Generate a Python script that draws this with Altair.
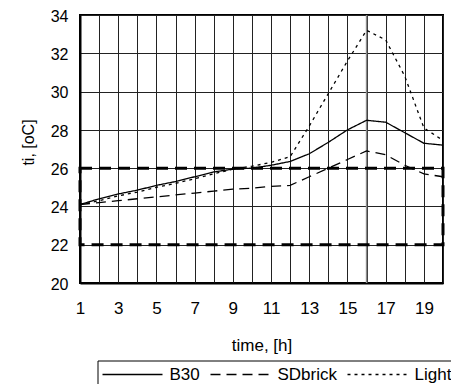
import altair as alt
import pandas as pd

hours = list(range(1, 21))
b30 = [24.1, 24.4, 24.65, 24.85, 25.1, 25.3, 25.55, 25.8, 25.95, 26.0,
       26.15, 26.35, 26.75, 27.35, 28.0, 28.5, 28.4, 27.85, 27.3, 27.2]
sdbrick = [24.1, 24.2, 24.3, 24.4, 24.5, 24.6, 24.7, 24.8, 24.9, 24.95,
           25.05, 25.1, 25.55, 26.0, 26.45, 26.9, 26.7, 26.15, 25.7, 25.55]
light = [24.1, 24.3, 24.55, 24.75, 25.0, 25.2, 25.45, 25.7, 25.95, 26.1,
         26.3, 26.6, 28.2, 29.9, 31.6, 33.2, 32.7, 30.8, 28.1, 27.45]
series_names = ["B30", "SDbrick", "Light"]
zone_low, zone_high = 22, 26
peak_hour = [16]
x_ticks = list(range(1, 21))
y_ticks = list(range(20, 35, 2))

rows = []
for name, vals in zip(series_names, [b30, sdbrick, light]):
    for h, v in zip(hours, vals):
        rows.append({"time": h, "ti": v, "series": name})
df = pd.DataFrame(rows)
zone = pd.DataFrame({"x": [hours[0]], "x2": [hours[-1]], "y": [zone_low], "y2": [zone_high]})
peak = pd.DataFrame({"time": peak_hour})

font = "Liberation Sans"
x_scale = alt.Scale(domain=[hours[0], hours[-1]], nice=False, zero=False)
y_scale = alt.Scale(domain=[y_ticks[0], y_ticks[-1]], nice=False, zero=False)

x_axis = alt.Axis(values=x_ticks, labelExpr="datum.value % 2 == 1 ? datum.label : ''",
                  title="time, [h]", grid=True, ticks=False, labelPadding=17,
                  titlePadding=21, labelFontSize=17, titleFontSize=17,
                  titleFontWeight="normal", labelFlush=False)
y_axis = alt.Axis(values=y_ticks, title="ti, [oC]", grid=True, ticks=False,
                  labelPadding=12, titlePadding=14, labelFontSize=16,
                  labelOffset=1.2,
                  titleFontSize=16, titleFontWeight="normal", labelFlush=False,
                  titleY=127)

rule = alt.Chart(peak).mark_rule(color="#8a8a8a", strokeWidth=1.5).encode(
    x=alt.X("time:Q", scale=x_scale, axis=x_axis)
)

zone_rect = alt.Chart(zone).mark_rect(
    fillOpacity=0, stroke="black", strokeWidth=3, strokeDash=[12, 7]
).encode(
    x=alt.X("x:Q", scale=x_scale, axis=x_axis),
    x2="x2:Q",
    y=alt.Y("y:Q", scale=y_scale, axis=y_axis),
    y2="y2:Q",
)

lines = alt.Chart(df).mark_line(color="black", strokeWidth=1.3).encode(
    x=alt.X("time:Q", scale=x_scale, axis=x_axis),
    y=alt.Y("ti:Q", scale=y_scale, axis=y_axis),
    strokeDash=alt.StrokeDash(
        "series:N",
        scale=alt.Scale(domain=series_names, range=[[1, 0], [10, 6], [3, 4]]),
        legend=alt.Legend(
            title=None, orient="none", legendX=17.5, legendY=345.5,
            direction="horizontal", strokeColor="black", padding=2,
            symbolType="stroke", symbolSize=3600, symbolStrokeColor="black",
            symbolStrokeWidth=1.3, clipHeight=24, labelFont=font,
            labelFontSize=17, labelOffset=6, columnPadding=7, symbolOffset=2,
        ),
    ),
)

chart = alt.layer(rule, zone_rect, lines).properties(
    width=363, height=268,
    autosize=alt.AutoSizeParams(type="none"),
    padding={"left": 72, "top": 7, "right": 8, "bottom": 101},
).configure_view(
    stroke="black", strokeWidth=2
).configure_axis(
    domainColor="black", domainWidth=2, gridColor="#222", gridWidth=1,
    labelFont=font, titleFont=font, labelColor="black", titleColor="black",
).configure_legend(
    labelColor="black"
)

chart.save("out.html", embed_options={"renderer": "svg", "actions": False})
